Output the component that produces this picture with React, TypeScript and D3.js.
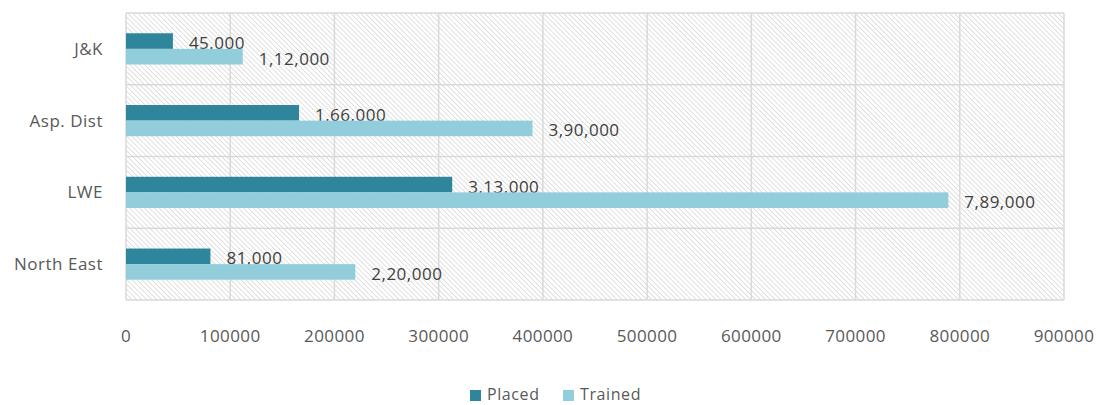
import React, { useEffect, useRef } from 'react';
import * as d3 from 'd3';

const categories = ['J&K', 'Asp. Dist', 'LWE', 'North East'];
const placed = [45000, 166000, 313000, 81000];
const trained = [112000, 390000, 789000, 220000];
const xTicks = [0, 100000, 200000, 300000, 400000, 500000, 600000, 700000, 800000, 900000];
const seriesNames = ['Placed', 'Trained'];
const seriesColors = ['#2E859C', '#92CDDC'];

// Indian digit grouping, e.g. 1,12,000
const indianFormat = (v: number) => {
    const s = String(Math.round(v));
    if (s.length <= 3) return s;
    const last3 = s.slice(-3);
    let rest = s.slice(0, -3);
    const parts: string[] = [];
    while (rest.length > 2) {
        parts.unshift(rest.slice(-2));
        rest = rest.slice(0, -2);
    }
    if (rest) parts.unshift(rest);
    return parts.join(',') + ',' + last3;
};

const FONT = '"Open Sans", "DejaVu Sans", sans-serif';

const App: React.FC = () => {
    const chartRef = useRef<SVGSVGElement | null>(null);

    useEffect(() => {
        if (!chartRef.current) return;

        const width = 1101;
        const height = 405;
        const margin = { top: 13, right: 37, bottom: 105, left: 126 };

        const svg = d3.select(chartRef.current)
            .attr('width', width)
            .attr('height', height)
            .attr('viewBox', `0 0 ${width} ${height}`);

        svg.selectAll('*').remove();

        const defs = svg.append('defs');
        const pat = defs.append('pattern')
            .attr('id', 'hatch')
            .attr('patternUnits', 'userSpaceOnUse')
            .attr('width', 3.5)
            .attr('height', 3.5)
            .attr('patternTransform', 'rotate(-45)');
        pat.append('rect').attr('width', 3.5).attr('height', 3.5).attr('fill', '#ffffff');
        pat.append('line')
            .attr('x1', 0).attr('y1', 0).attr('x2', 0).attr('y2', 3.5)
            .attr('stroke', '#d6d6d6')
            .attr('stroke-width', 1.5);

        const x = d3.scaleLinear()
            .domain([0, 900000])
            .range([margin.left, width - margin.right]);

        const y = d3.scaleBand()
            .domain(categories)
            .range([margin.top, height - margin.bottom]);

        const inner = d3.scaleBand()
            .domain(seriesNames)
            .range([0, y.bandwidth()])
            .paddingInner(0)
            .paddingOuter(1.3);

        // Plot background with hatch
        svg.append('rect')
            .attr('x', margin.left)
            .attr('y', margin.top)
            .attr('width', width - margin.left - margin.right)
            .attr('height', height - margin.top - margin.bottom)
            .attr('fill', 'url(#hatch)');

        // Vertical gridlines
        svg.append('g')
            .selectAll('line')
            .data(xTicks)
            .join('line')
            .attr('x1', d => x(d))
            .attr('x2', d => x(d))
            .attr('y1', margin.top)
            .attr('y2', height - margin.bottom)
            .attr('stroke', '#d9d9d9')
            .attr('stroke-width', 1.5);

        // Horizontal category separators
        const bounds = categories.map(c => y(c) as number).concat([height - margin.bottom]);
        svg.append('g')
            .selectAll('line')
            .data(bounds)
            .join('line')
            .attr('x1', margin.left)
            .attr('x2', width - margin.right)
            .attr('y1', d => d)
            .attr('y2', d => d)
            .attr('stroke', '#d9d9d9')
            .attr('stroke-width', 1.5);

        // X tick labels
        svg.append('g')
            .selectAll('text')
            .data(xTicks)
            .join('text')
            .attr('x', d => x(d))
            .attr('y', 342)
            .attr('text-anchor', 'middle')
            .attr('fill', '#595959')
            .attr('font-size', '17px')
            .attr('letter-spacing', '0.4px')
            .attr('font-family', FONT)
            .text(d => String(d));

        // Category labels
        svg.append('g')
            .selectAll('text')
            .data(categories)
            .join('text')
            .attr('x', 103)
            .attr('y', d => (y(d) as number) + y.bandwidth() / 2)
            .attr('dy', '0.35em')
            .attr('text-anchor', 'end')
            .attr('fill', '#595959')
            .attr('font-size', '17px')
            .attr('letter-spacing', '0.5px')
            .attr('font-family', FONT)
            .text(d => d);

        const series = [placed, trained];
        series.forEach((vals, si) => {
            const name = seriesNames[si];
            const g = svg.append('g');
            g.selectAll('rect')
                .data(vals)
                .join('rect')
                .attr('x', x(0))
                .attr('y', (_, i) => (y(categories[i]) as number) + (inner(name) as number))
                .attr('width', d => x(d) - x(0))
                .attr('height', inner.bandwidth())
                .attr('fill', seriesColors[si]);
            g.selectAll('text')
                .data(vals)
                .join('text')
                .attr('x', d => x(d) + 16)
                .attr('y', (_, i) => (y(categories[i]) as number) + (inner(name) as number) + inner.bandwidth() / 2 + 2)
                .attr('dy', '0.35em')
                .attr('fill', '#404040')
                .attr('font-size', '17px')
                .attr('letter-spacing', '0.5px')
                .attr('font-family', FONT)
                .text(d => indianFormat(d));
        });

        // Legend
        const legendX = [470, 563];
        const legend = svg.append('g');
        seriesNames.forEach((n, i) => {
            legend.append('rect')
                .attr('x', legendX[i])
                .attr('y', 390)
                .attr('width', 11)
                .attr('height', 11)
                .attr('fill', seriesColors[i]);
            legend.append('text')
                .attr('x', legendX[i] + 17)
                .attr('y', 400)
                .attr('fill', '#595959')
                .attr('font-size', '16px')
                .attr('letter-spacing', '0.6px')
                .attr('font-family', FONT)
                .text(n);
        });
    }, []);

    return <svg ref={chartRef} style={{ position: 'absolute', left: 0, top: 0, background: '#fff' }}></svg>;
};

export default App;
